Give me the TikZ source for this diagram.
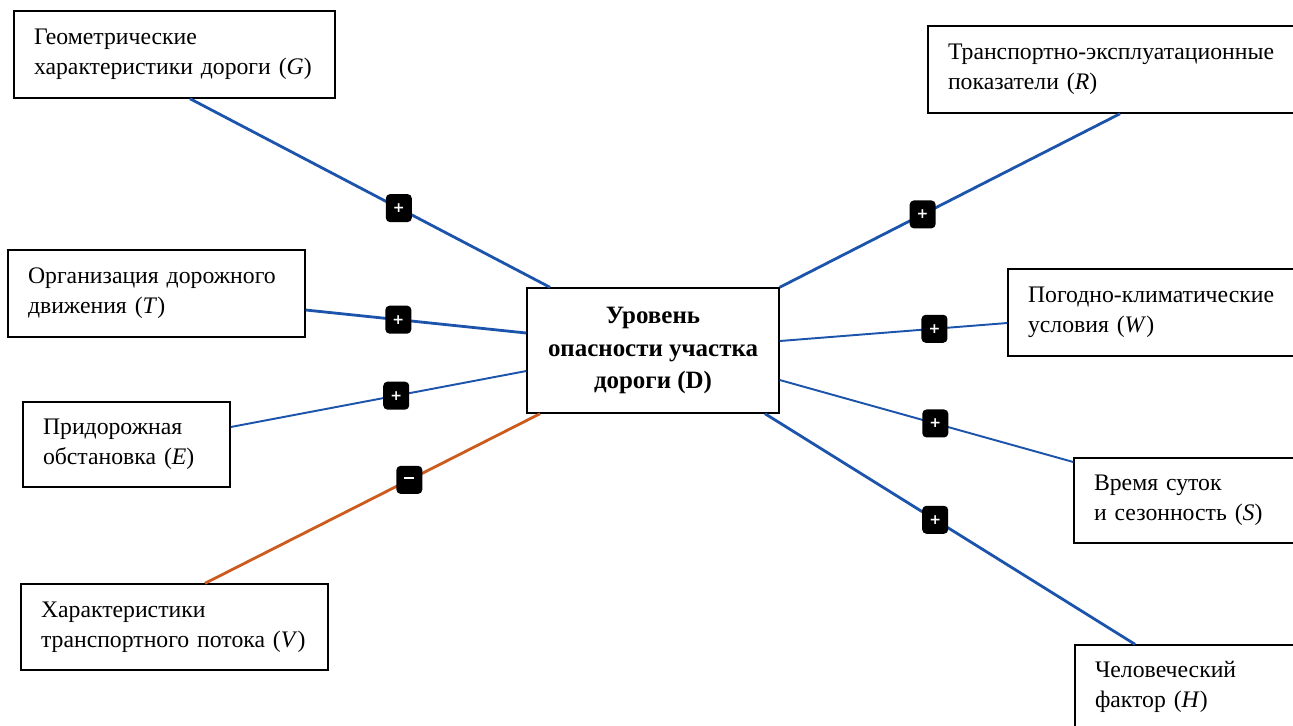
\documentclass[tikz,border=0pt]{standalone}
\usepackage{fontspec}
\setmainfont{Liberation Serif}
\newfontfamily\badgefont{DejaVu Sans}
\definecolor{linkblue}{RGB}{28,84,172}
\definecolor{linkorange}{RGB}{204,92,30}
\begin{document}
\begin{tikzpicture}[x=0.02cm, y=-0.02cm,
    every node/.style={font=\fontsize{13.5}{17}\selectfont},
    factor/.style={rectangle, draw, thick, fill=white, align=left, inner xsep=0.4cm, anchor=center},
    goal/.style={rectangle, draw, thick, fill=white, align=center, font=\fontsize{14.2}{18.6}\selectfont\bfseries},
    sign/.style={rectangle, rounded corners=2.4pt, fill=black, text=white, minimum width=0.52cm, minimum height=0.56cm, inner sep=0pt, font=\badgefont\bfseries\footnotesize},
    link/.style={draw=linkblue, line width=1.6pt},
    thinlink/.style={draw=linkblue, line width=1.1pt},
    neglink/.style={draw=linkorange, line width=1.6pt}]
    \useasboundingbox (0,0) rectangle (1293,725);
    % central node
    \node [goal, minimum width=5.04cm, minimum height=2.5cm] (D) at (653,350.5)
        {Уровень\\опасности участка\\дороги (D)};
    % factors on the left
    \node [factor, minimum width=6.42cm, minimum height=1.74cm, text width=5.62cm] (G) at (174.5,54.5)
        {Геометрические\\характеристики дороги (\textit{G})};
    \node [factor, minimum width=5.94cm, minimum height=1.74cm, text width=5.14cm] (T) at (156.5,293.5)
        {Организация дорожного\\движения (\textit{T})};
    \node [factor, minimum width=4.14cm, minimum height=1.7cm, text width=3.34cm] (E) at (126.5,444.5)
        {Придорожная\\обстановка (\textit{E})};
    \node [factor, minimum width=6.14cm, minimum height=1.72cm, text width=5.34cm] (V) at (174.5,627)
        {Характеристики\\транспортного потока (\textit{V})};
    % factors on the right
    \node [factor, minimum width=7.44cm, minimum height=1.74cm, text width=6.64cm] (R) at (1114,69.5)
        {Транспортно-эксплуатационные\\показатели (\textit{R})};
    \node [factor, minimum width=5.84cm, minimum height=1.74cm, text width=5.04cm] (W) at (1154,312.5)
        {Погодно-климатические\\условия (\textit{W})};
    \node [factor, minimum width=4.52cm, minimum height=1.7cm, text width=3.72cm] (S) at (1187,500.5)
        {Время суток\\и сезонность (\textit{S})};
    \node [factor, minimum width=4.5cm, minimum height=1.68cm, text width=3.7cm] (H) at (1187.5,687)
        {Человеческий\\фактор (\textit{H})};
    % links
    \draw [link] ([xshift=0.31cm]G.south) -- node [sign, pos=0.58] {+} ([xshift=-2.06cm]D.north);
    \draw [link] ([yshift=-0.33cm]T.east) -- node [sign, pos=0.42] {+} ([yshift=0.35cm]D.west);
    \draw [thinlink] ([yshift=0.35cm]E.east) -- node [sign, pos=0.56] {+} ([yshift=-0.41cm]D.west);
    \draw [neglink] ([xshift=0.61cm]V.north) -- node [sign, pos=0.61] {\rule[0.55ex]{0.2cm}{0.045cm}} ([xshift=-2.26cm]D.south);
    \draw [link] (D.north east) -- node [sign, pos=0.42] {+} ([xshift=0.12cm]R.south);
    \draw [thinlink] ([yshift=0.19cm]D.east) -- node [sign, pos=0.68] {+} ([yshift=-0.21cm]W.west);
    \draw [thinlink] ([yshift=-0.59cm]D.east) -- node [sign, pos=0.53] {+} ([yshift=0.77cm]S.west);
    \draw [link] ([xshift=2.24cm]D.south) -- node [sign, pos=0.46] {+} ([xshift=-1.05cm]H.north);
\end{tikzpicture}
\end{document}
